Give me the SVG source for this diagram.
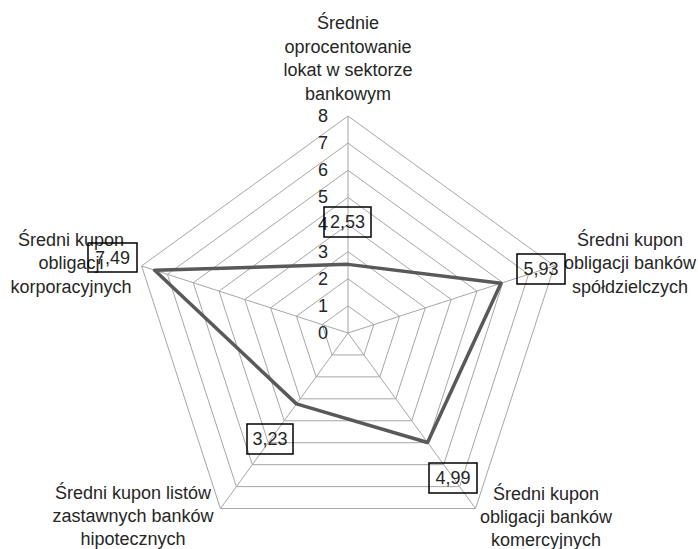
<svg xmlns="http://www.w3.org/2000/svg" width="698" height="549" viewBox="0 0 698 549">
<style>
.grid{fill:none;stroke:#a6a6a6;stroke-width:1}
.series{fill:none;stroke:#595959;stroke-width:3.5;stroke-linejoin:round}
.t{font-family:"Liberation Sans",Arial,sans-serif;font-size:18px;fill:#262626}
.c{text-anchor:middle}
.tick{text-anchor:end}
.box{fill:none;stroke:#000;stroke-width:1.5}
</style>
<rect width="698" height="549" fill="#fff"/>
<g id="grid">
<polygon class="grid" points="348,305.88 373.80,324.62 363.94,354.94 332.06,354.94 322.20,324.62"/>
<polygon class="grid" points="348,278.75 399.60,316.24 379.89,376.89 316.11,376.89 296.40,316.24"/>
<polygon class="grid" points="348,251.63 425.39,307.85 395.83,398.83 300.17,398.83 270.61,307.85"/>
<polygon class="grid" points="348,224.5 451.19,299.47 411.78,420.78 284.22,420.78 244.81,299.47"/>
<polygon class="grid" points="348,197.38 476.99,291.09 427.72,442.72 268.28,442.72 219.01,291.09"/>
<polygon class="grid" points="348,170.25 502.78,282.71 443.66,464.67 252.34,464.67 193.22,282.71"/>
<polygon class="grid" points="348,143.13 528.58,274.33 459.61,486.61 236.39,486.61 167.42,274.33"/>
<polygon class="grid" points="348,116 554.38,265.94 475.55,508.56 220.45,508.56 141.62,265.94"/>
<path class="grid" d="M348,333V116M348,333L554.38,265.94M348,333L475.55,508.56M348,333L220.45,508.56M348,333L141.62,265.94"/>
</g>
<g id="ticks" class="t tick">
<text x="328" y="339">0</text>
<text x="328" y="312">1</text>
<text x="328" y="285">2</text>
<text x="328" y="258">3</text>
<text x="328" y="230">4</text>
<text x="328" y="203">5</text>
<text x="328" y="176">6</text>
<text x="328" y="149">7</text>
<text x="328" y="122">8</text>
</g>
<g id="series">
<polygon class="series" points="348,264.37 500.98,283.29 427.56,442.50 296.50,403.88 154.68,270.19"/>
</g>
<g id="cat-top" class="t c">
<text x="348" y="29">Średnie</text>
<text x="348" y="53">oprocentowanie</text>
<text x="348" y="76">lokat w sektorze</text>
<text x="348" y="100">bankowym</text>
</g>
<g id="cat-right" class="t c">
<text x="630" y="246">Średni kupon</text>
<text x="630" y="269">obligacji banków</text>
<text x="630" y="293">spółdzielczych</text>
</g>
<g id="cat-bottom-right" class="t c">
<text x="546" y="500">Średni kupon</text>
<text x="546" y="523">obligacji banków</text>
<text x="546" y="546">komercyjnych</text>
</g>
<g id="cat-bottom-left" class="t c">
<text x="133" y="499">Średni kupon listów</text>
<text x="133" y="522">zastawnych banków</text>
<text x="133" y="545">hipotecznych</text>
</g>
<g id="cat-left" class="t c">
<text x="71" y="246">Średni kupon</text>
<text x="71" y="269">obligacji</text>
<text x="71" y="293">korporacyjnych</text>
</g>
<g id="data-labels">
<g id="dl-top"><rect class="box" x="324" y="207" width="47" height="30"/><text class="t c" x="347.5" y="228">2,53</text></g>
<g id="dl-right"><rect class="box" x="517" y="254" width="48" height="30"/><text class="t c" x="541" y="275">5,93</text></g>
<g id="dl-bottom-right"><rect class="box" x="429" y="463" width="48" height="30"/><text class="t c" x="453" y="484">4,99</text></g>
<g id="dl-bottom-left"><rect class="box" x="247" y="424" width="46" height="30"/><text class="t c" x="270" y="445">3,23</text></g>
<g id="dl-left"><rect class="box" x="88" y="243" width="49" height="29"/><text class="t c" x="112.5" y="264">7,49</text></g>
</g>
</svg>
